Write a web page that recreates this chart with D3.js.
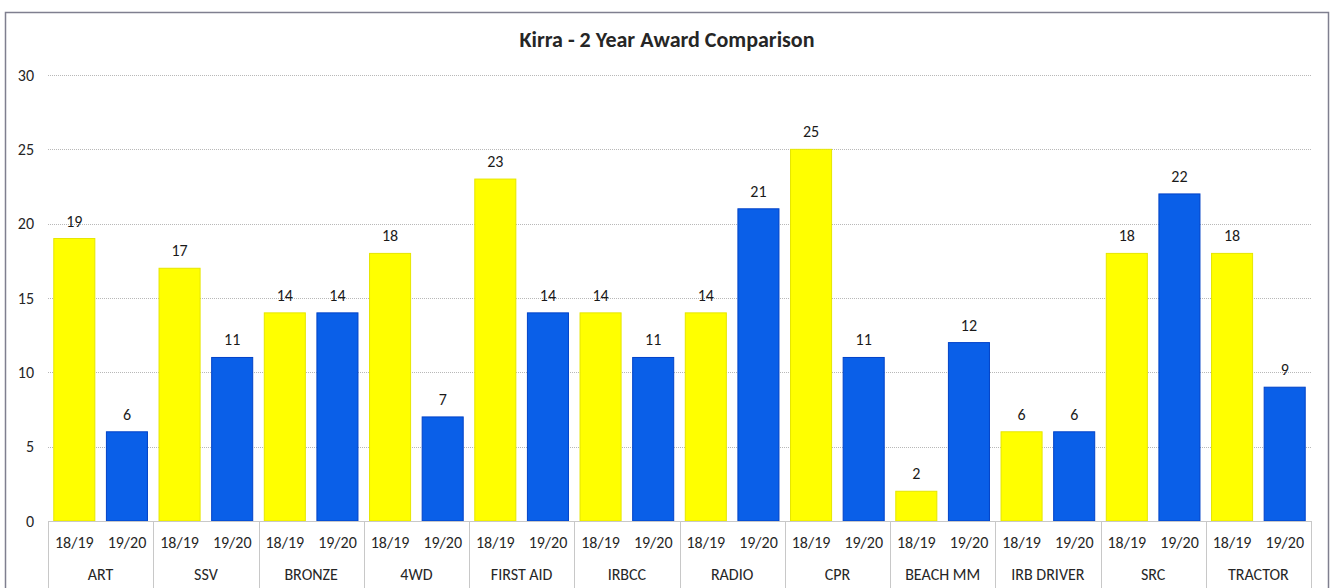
<!DOCTYPE html>
<html>
<head>
<meta charset="utf-8">
<script src="https://cdn.jsdelivr.net/npm/d3@7"></script>
<style>
body { margin: 0; background: #fff; }
svg { font-family: Calibri, Carlito, "Open Sans", sans-serif; }
.tick-label { font-size: 16px; fill: #262626; }
.value-label { font-size: 16px; fill: #1a1a1a; }
</style>
</head>
<body>
<div id="chart"></div>
<script>
// Data
const awards = ['ART', 'SSV', 'BRONZE', '4WD', 'FIRST AID', 'IRBCC', 'RADIO', 'CPR', 'BEACH MM', 'IRB DRIVER', 'SRC', 'TRACTOR']
const years = ['18/19', '19/20']
const values1819 = [19, 17, 14, 18, 23, 14, 14, 25, 2, 6, 18, 18]
const values1920 = [6, 11, 14, 7, 14, 11, 21, 11, 12, 6, 22, 9]
const yTicks = [0, 5, 10, 15, 20, 25, 30]

const yearColors = ['#FFFF00', '#0A5FE8']
const yearStrokes = ['#E6E600', '#0042C8']

const width = 1331
const height = 588
const plotLeft = 48
const plotRight = 1311
const plotTop = 75
const plotBottom = 521

const svg = d3.select('#chart').append('svg')
    .attr('width', width)
    .attr('height', height)

// Chart border
svg.append('rect')
    .attr('x', 5.5)
    .attr('y', 12.5)
    .attr('width', 1323)
    .attr('height', 600)
    .attr('fill', 'none')
    .attr('stroke', '#7f7f8f')
    .attr('stroke-width', 1.5)

// Title
svg.append('text')
    .attr('x', 667)
    .attr('y', 47)
    .attr('text-anchor', 'middle')
    .style('font-size', '22px')
    .style('font-weight', 'bold')
    .style('fill', '#262626')
    .text('Kirra - 2 Year Award Comparison')

// Scales
const xScale = d3.scaleBand()
    .domain(awards)
    .range([plotLeft, plotRight])

const xSub = d3.scaleBand()
    .domain(years)
    .range([0, xScale.bandwidth()])
    .paddingInner(0.22)
    .paddingOuter(0.11)

const yScale = d3.scaleLinear()
    .domain([0, 30])
    .range([plotBottom, plotTop])

// Gridlines
svg.append('g').selectAll('.grid')
    .data(yTicks.filter(d => d > 0))
    .enter()
    .append('line')
    .classed('grid', true)
    .attr('x1', plotLeft)
    .attr('x2', plotRight)
    .attr('y1', d => Math.round(yScale(d)) + 0.5)
    .attr('y2', d => Math.round(yScale(d)) + 0.5)
    .attr('stroke', '#b8b8b8')
    .attr('stroke-dasharray', '1 1')

// Y axis labels
const yAxis = d3.axisLeft(yScale)
    .tickValues(yTicks)
    .tickSize(0)
    .tickPadding(0)

svg.append('g')
    .attr('transform', 'translate(34,0)')
    .call(yAxis)
    .call(g => g.select('.domain').remove())
    .selectAll('text')
    .attr('class', 'tick-label')
    .style('font-size', '16px')
    .style('font-family', 'Calibri, Carlito, "Open Sans", sans-serif')

// Bars
const seriesData = [values1819, values1920]
const groups = svg.append('g').selectAll('.award')
    .data(awards)
    .enter()
    .append('g')
    .classed('award', true)
    .attr('transform', d => 'translate(' + xScale(d) + ',0)')

groups.selectAll('rect')
    .data((d, i) => years.map((y, j) => ({year: y, j: j, value: seriesData[j][i]})))
    .enter()
    .append('rect')
    .attr('x', d => xSub(d.year))
    .attr('width', xSub.bandwidth())
    .attr('y', d => yScale(d.value))
    .attr('height', d => plotBottom - yScale(d.value))
    .attr('fill', d => yearColors[d.j])
    .attr('stroke', d => yearStrokes[d.j])
    .attr('stroke-width', 1)

groups.selectAll('.value-label')
    .data((d, i) => years.map((y, j) => ({year: y, value: seriesData[j][i]})))
    .enter()
    .append('text')
    .attr('class', 'value-label')
    .attr('x', d => xSub(d.year) + xSub.bandwidth() / 2)
    .attr('y', d => yScale(d.value) - 12)
    .attr('text-anchor', 'middle')
    .text(d => d.value)

// X axis line and separators
svg.append('line')
    .attr('x1', plotLeft)
    .attr('x2', plotRight)
    .attr('y1', plotBottom + 0.5)
    .attr('y2', plotBottom + 0.5)
    .attr('stroke', '#c8c8c8')

const separators = awards.map(d => xScale(d)).concat([plotRight])
svg.append('g').selectAll('.sep')
    .data(separators)
    .enter()
    .append('line')
    .classed('sep', true)
    .attr('x1', d => Math.round(d) + 0.5)
    .attr('x2', d => Math.round(d) + 0.5)
    .attr('y1', plotBottom)
    .attr('y2', height)
    .attr('stroke', '#c8c8c8')

// Year labels
groups.selectAll('.year-label')
    .data(years)
    .enter()
    .append('text')
    .attr('class', 'tick-label')
    .attr('x', d => xSub(d) + xSub.bandwidth() / 2)
    .attr('y', 548)
    .attr('text-anchor', 'middle')
    .text(d => d)

// Award labels
groups.append('text')
    .attr('class', 'tick-label')
    .attr('x', xScale.bandwidth() / 2)
    .attr('y', 580)
    .attr('text-anchor', 'middle')
    .text(d => d)
</script>
</body>
</html>
